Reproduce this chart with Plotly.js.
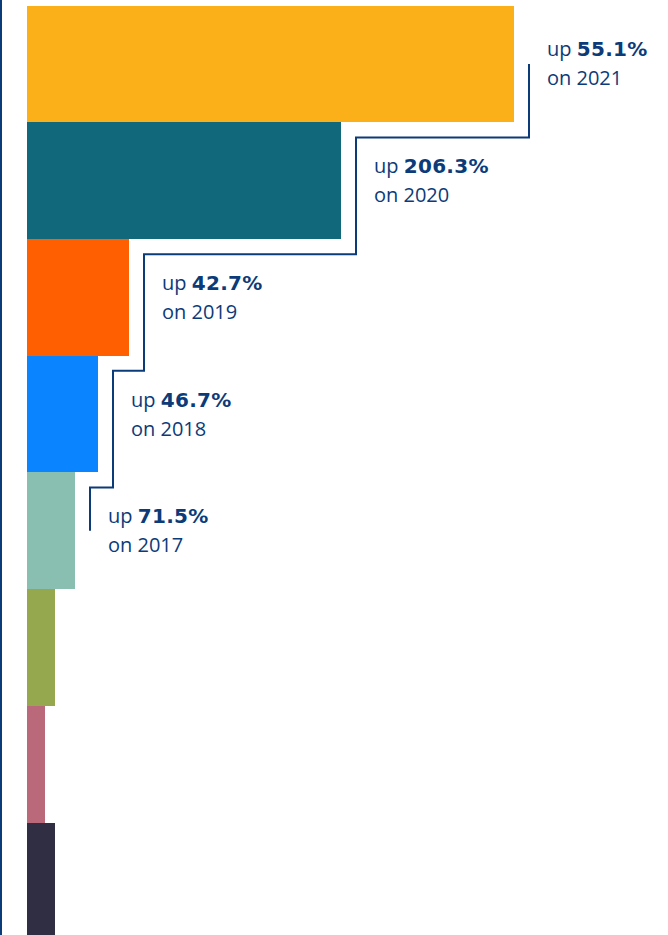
<!DOCTYPE html>
<html>
<head>
<meta charset="utf-8">
<script src="https://cdn.plot.ly/plotly-3.0.1.min.js"></script>
<style>
  html, body { margin: 0; padding: 0; background: #ffffff; }
  #chart { width: 668px; height: 935px; }
</style>
</head>
<body>
<div id="chart"></div>
<script>
// Data (bottom to top)
const years  = ['2015', '2016', '2017', '2018', '2019', '2020', '2021', '2022'];
const values = [28, 18, 28, 48, 71, 102, 314, 487];
const colors = ['#302E42', '#B9697A', '#95A84E', '#88BFB0', '#0A84FF', '#FF5F00', '#10687A', '#FBB01A'];
const growth = [null, null, null, '71.5%', '46.7%', '42.7%', '206.3%', '55.1%'];

const NAVY = '#0c3b79';
const idx = years.map((_, i) => i);

// Staircase connector derived from the bar values
const gapX = 15, rowOff = 0.37;
const sx = [], sy = [];
const topIdx = years.length - 1;
sx.push(values[topIdx] + gapX); sy.push(topIdx);
for (let i = topIdx; i > 3; i--) {
  const lvl = (i - 1) + rowOff;
  sx.push(values[i] + gapX); sy.push(lvl);
  sx.push(values[i - 1] + gapX); sy.push(lvl);
}
sx.push(values[3] + gapX); sy.push(3);

const bars = {
  type: 'bar',
  orientation: 'h',
  y: idx,
  x: values,
  width: 1,
  marker: { color: colors, line: { width: 0 } },
  hoverinfo: 'skip'
};
const stair = {
  type: 'scatter',
  mode: 'lines',
  x: sx,
  y: sy,
  line: { color: NAVY, width: 2, shape: 'linear' },
  hoverinfo: 'skip'
};

const annotations = [];
for (let i = 0; i < years.length; i++) {
  if (!growth[i]) continue;
  annotations.push({
    x: values[i] + 31, y: i, xref: 'x', yref: 'y',
    xanchor: 'left', yanchor: 'middle', yshift: 15,
    text: 'up <span style="font-family:\'DejaVu Sans\';font-weight:bold;letter-spacing:0.3px">' + growth[i] + '</span>', showarrow: false,
    font: { family: 'Open Sans, sans-serif', size: 20, color: NAVY }
  });
  annotations.push({
    x: values[i] + 31, y: i, xref: 'x', yref: 'y',
    xanchor: 'left', yanchor: 'middle', yshift: -14,
    text: 'on ' + years[i - 1], showarrow: false,
    font: { family: 'Open Sans, sans-serif', size: 20, color: NAVY }
  });
}

const layout = {
  width: 668, height: 935,
  margin: { l: 27, r: 0, t: 0, b: 0, pad: 0 },
  paper_bgcolor: '#ffffff', plot_bgcolor: '#ffffff',
  showlegend: false,
  bargap: 0,
  xaxis: { range: [0, 641], visible: false, fixedrange: true },
  yaxis: { range: [-0.464, 7.548], visible: false, fixedrange: true },
  annotations: annotations,
  shapes: [{
    type: 'line', xref: 'paper', yref: 'paper',
    x0: -26 / 641, x1: -26 / 641, y0: 0, y1: 1,
    line: { color: NAVY, width: 2 }
  }]
};

Plotly.newPlot('chart', [bars, stair], layout, { displayModeBar: false, staticPlot: true });
</script>
</body>
</html>
